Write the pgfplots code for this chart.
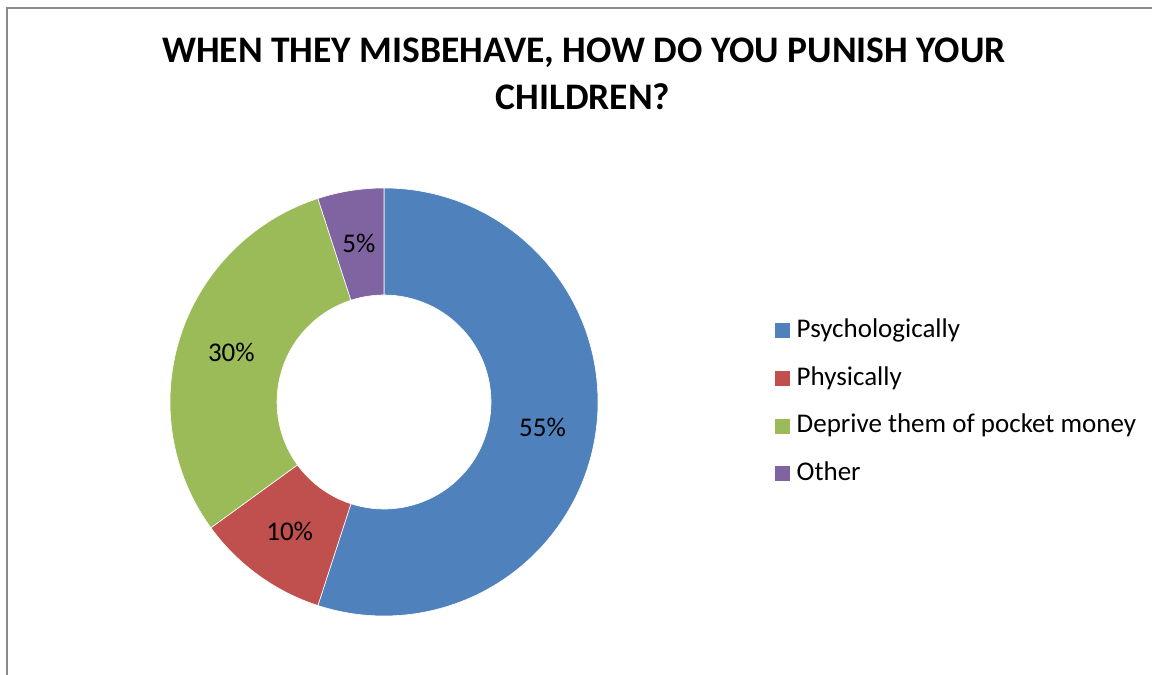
\documentclass[border=0pt]{standalone}
\usepackage{pgfplots}
\pgfplotsset{compat=1.18}
\usepackage{pgfplotstable}
\usepackage{fontspec}
\setmainfont{Carlito}
\definecolor{c0}{HTML}{4F81BD}
\definecolor{c1}{HTML}{C0504D}
\definecolor{c2}{HTML}{9BBB59}
\definecolor{c3}{HTML}{8064A2}
\definecolor{framegray}{HTML}{8A8A8A}

\pgfplotstableread[col sep=comma]{
label,value
Psychologically,55
Physically,10
Deprive them of pocket money,30
Other,5
}\datatable

\begin{document}%
\begin{tikzpicture}
\def\cum{0}
\pgfplotsforeachungrouped \i in {0,...,3}{%
  \pgfplotstablegetelem{\i}{value}\of\datatable
  \edef\vval{\pgfplotsretval}%
  \pgfmathsetmacro\sang{90-3.6*\cum}%
  \pgfmathsetmacro\cum{\cum+\vval}%
  \pgfmathsetmacro\eang{90-3.6*\cum}%
  \pgfmathsetmacro\mang{(\sang+\eang)/2}%
  \expandafter\xdef\csname sa\i\endcsname{\sang}%
  \expandafter\xdef\csname eb\i\endcsname{\eang}%
  \expandafter\xdef\csname md\i\endcsname{\mang}%
  \expandafter\xdef\csname vv\i\endcsname{\vval}%
  \pgfplotstablegetelem{\i}{label}\of\datatable
  \expandafter\xdef\csname lb\i\endcsname{\pgfplotsretval}%
}
\begin{axis}[
  x=1bp, y=1bp, xmin=0, xmax=1152, ymin=0, ymax=675,
  hide axis, clip=false,
  legend image code/.code={\fill[#1] (0bp,-7.5bp) rectangle (15bp,7.5bp);},
  legend cell align=left,
  legend style={draw=none, fill=none, inner sep=0pt,
    at={(axis cs:775,358)}, anchor=north west,
    font=\fontsize{27bp}{32bp}\selectfont,
    nodes={inner sep=0pt, text height=20.25bp, text depth=6.75bp},
    row sep=20.7bp,
    /tikz/every odd column/.append style={column sep=6.5bp}},
]
\coordinate (bl) at (axis cs:0,0);
\coordinate (tr) at (axis cs:1152,675);
\pgfplotsinvokeforeach{0,...,3}{
  \fill[c#1, draw=white, line width=0.6bp, shift={(axis cs:384,273)}]
    (\csname sa#1\endcsname:214bp)
    arc[start angle=\csname sa#1\endcsname, end angle=\csname eb#1\endcsname, radius=214bp]
    -- (\csname eb#1\endcsname:107bp)
    arc[start angle=\csname eb#1\endcsname, end angle=\csname sa#1\endcsname, radius=107bp]
    -- cycle;
  \node[font=\fontsize{27bp}{32bp}\selectfont, text=black]
    at ([shift={(axis cs:384,273)}]\csname md#1\endcsname:160.5bp) {\csname vv#1\endcsname\%};
  \addlegendimage{fill=c#1, draw=none}
  \addlegendentry{\csname lb#1\endcsname}
}
\draw[framegray, line width=2bp] (axis cs:7,-10) -- (axis cs:7,666.5) -- (axis cs:1170,666.5);
\node[anchor=base, font=\fontsize{37.5bp}{46bp}\selectfont\bfseries] at (axis cs:584,612) {WHEN THEY MISBEHAVE, HOW DO YOU PUNISH YOUR};
\node[anchor=base, font=\fontsize{37.5bp}{46bp}\selectfont\bfseries] at (axis cs:583,565.7) {CHILDREN?};
\end{axis}
\pgfresetboundingbox
\path (bl) rectangle (tr);
\end{tikzpicture}%
\end{document}
